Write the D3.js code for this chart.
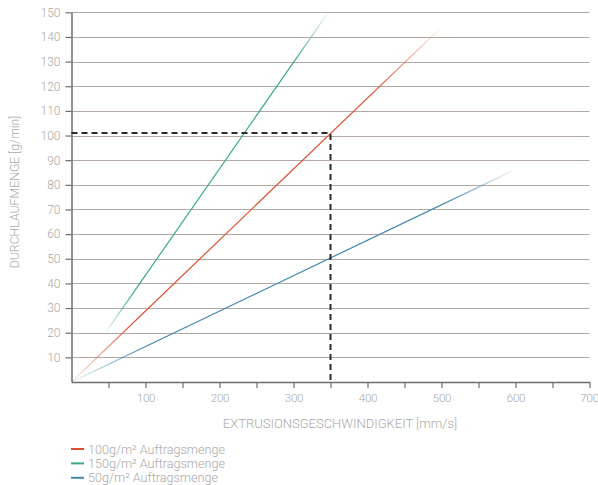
<!DOCTYPE html>
<html>
<head>
<meta charset="utf-8">
<script src="https://cdn.jsdelivr.net/npm/d3@7"></script>
<style>
  html, body { margin: 0; padding: 0; background: #fff; }
  svg text { font-family: Roboto, "DejaVu Sans", sans-serif; fill: #a9a9a9; }
</style>
</head>
<body>
<svg id="chart" width="598" height="485"></svg>
<script>
// Durchlaufmenge über Extrusionsgeschwindigkeit, je Auftragsmenge
const seriesNames = ["100g/m² Auftragsmenge", "150g/m² Auftragsmenge", "50g/m² Auftragsmenge"];
const seriesColors = ["#d9502f", "#3aa98a", "#3f88ad"];
// start and end point of each line: [speed mm/s, throughput g/min]
const seriesStart = [[0, 0], [46, 20], [0, 0]];
const seriesEnd = [[500, 144], [347, 150], [598, 86]];
// fade length at each end, as fraction of the line
const fadeStart = [0.07, 0.05, 0.07];
const fadeEnd = [0.12, 0.1, 0.11];
const xTicks = [100, 200, 300, 400, 500, 600, 700];
const xMinorTicks = [50, 100, 150, 200, 250, 300, 350, 400, 450, 500, 550, 600, 650, 700];
const yTicks = [10, 20, 30, 40, 50, 60, 70, 80, 90, 100, 110, 120, 130, 140, 150];
const markPoint = [350, 101];

const svg = d3.select("#chart");
const x = d3.scaleLinear().domain([0, 700]).range([71.5, 589.5]);
const y = d3.scaleLinear().domain([0, 150]).range([382, 12.3]);

// horizontal grid
svg.append("g").selectAll("line").data(yTicks).join("line")
  .attr("x1", x(0)).attr("x2", x(700))
  .attr("y1", d => Math.round(y(d)) + 0.5).attr("y2", d => Math.round(y(d)) + 0.5)
  .attr("stroke", "#b4a9a2").attr("stroke-width", 1.2);

// y axis
const yAxis = svg.append("g").attr("transform", `translate(${x(0)},0)`)
  .call(d3.axisLeft(y).tickValues(yTicks).tickSize(6).tickPadding(5).tickSizeOuter(0));
yAxis.select(".domain").attr("stroke", "#6e6e6e").attr("stroke-width", 1.5);
yAxis.selectAll(".tick line").attr("stroke", "#6e6e6e").attr("stroke-width", 1.2);
yAxis.selectAll(".tick text").attr("font-size", 12).attr("fill", "#a9a9a9")
  .style("font-family", "Roboto, sans-serif").attr("font-weight", 300);

// x axis
const xAxis = svg.append("g").attr("transform", `translate(0,${y(0)})`)
  .call(d3.axisBottom(x).tickValues(xMinorTicks).tickSize(6).tickPadding(6).tickSizeOuter(0)
    .tickFormat(d => xTicks.includes(d) ? d : ""));
xAxis.select(".domain").attr("stroke", "#6e6e6e").attr("stroke-width", 1.5);
xAxis.selectAll(".tick line").attr("stroke", "#6e6e6e").attr("stroke-width", 1.2);
xAxis.selectAll(".tick text").attr("font-size", 11.6).attr("fill", "#a9a9a9")
  .attr("letter-spacing", -0.2)
  .style("font-family", "Roboto, sans-serif").attr("font-weight", 300);
// keep the last label inside the frame
xAxis.selectAll(".tick text").filter(d => d === 700).attr("text-anchor", "end").attr("dx", 9);

// gradients fading the line ends
const defs = svg.append("defs");
seriesNames.forEach((name, i) => {
  const g = defs.append("linearGradient").attr("id", "fade" + i)
    .attr("gradientUnits", "userSpaceOnUse")
    .attr("x1", x(seriesStart[i][0])).attr("y1", y(seriesStart[i][1]))
    .attr("x2", x(seriesEnd[i][0])).attr("y2", y(seriesEnd[i][1]));
  g.append("stop").attr("offset", 0).attr("stop-color", seriesColors[i]).attr("stop-opacity", 0.08);
  g.append("stop").attr("offset", fadeStart[i] * 2.5).attr("stop-color", seriesColors[i]).attr("stop-opacity", 1);
  g.append("stop").attr("offset", 1 - fadeEnd[i] * 1.5).attr("stop-color", seriesColors[i]).attr("stop-opacity", 1);
  g.append("stop").attr("offset", 1).attr("stop-color", seriesColors[i]).attr("stop-opacity", 0.04);
});

const line = d3.line().x(d => x(d[0])).y(d => y(d[1]));
svg.append("g").selectAll("path").data(seriesNames).join("path")
  .attr("d", (d, i) => line([seriesStart[i], seriesEnd[i]]))
  .attr("fill", "none")
  .attr("stroke", (d, i) => `url(#fade${i})`)
  .attr("stroke-width", 1.2);

// reading guide at 350 mm/s
svg.append("path")
  .attr("d", line([[0, markPoint[1]], markPoint, [markPoint[0], 0]]))
  .attr("fill", "none").attr("stroke", "#2b2b2b").attr("stroke-width", 2)
  .attr("stroke-dasharray", "6,4");

// axis titles
svg.append("text").attr("x", 340).attr("y", 428)
  .attr("text-anchor", "middle").attr("font-size", 13).attr("font-weight", 300)
  .text("EXTRUSIONSGESCHWINDIGKEIT [mm/s]");
svg.append("text").attr("transform", "translate(19,192) rotate(-90)")
  .attr("text-anchor", "middle").attr("font-size", 12.3).attr("font-weight", 300)
  .text("DURCHLAUFMENGE [g/min]");

// legend
const legend = svg.append("g").selectAll("g").data(seriesNames).join("g")
  .attr("transform", (d, i) => `translate(71,${449 + i * 14.4})`);
legend.append("line").attr("x1", 0).attr("x2", 13).attr("y1", 0).attr("y2", 0)
  .attr("stroke", (d, i) => seriesColors[i]).attr("stroke-width", 2);
legend.append("text").attr("x", 17).attr("y", 4.5).attr("font-size", 12.6).attr("font-weight", 300)
  .text(d => d);
</script>
</body>
</html>
